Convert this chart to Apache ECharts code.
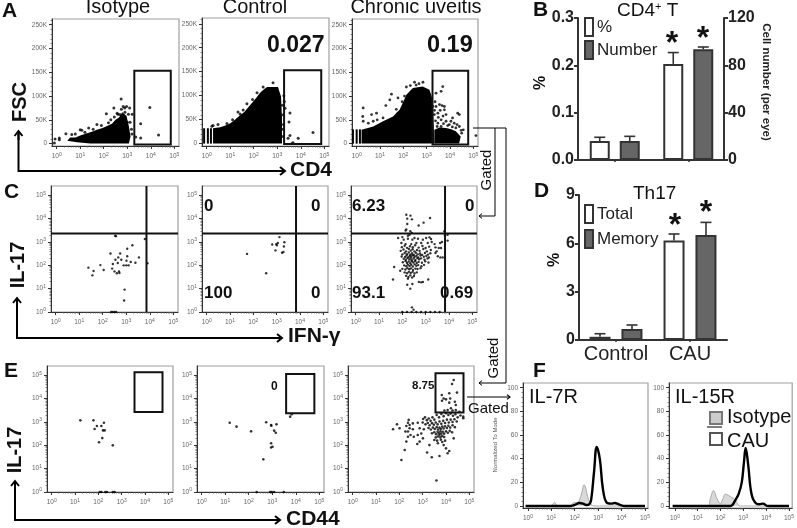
<!DOCTYPE html>
<html><head><meta charset="utf-8">
<style>html,body{margin:0;padding:0;background:#fff}#c{width:797px;height:528px}</style>
<script src="https://cdn.jsdelivr.net/npm/echarts@6/dist/echarts.min.js"></script>
</head><body><div id="c"></div>
<script>
// ---------- values (x, y in log10 decades; FSC in thousands) ----------
const decades=[0,1,2,3,4,5];
const fscTicks=[0,50,100,150,200,250];
const modeTicks=[0,20,40,60,80,100];

const a1Blob=[[0.45,6],[0.57,13],[0.8,13],[1.0,17],[1.29,22],[1.5,25],[1.71,29],[1.95,33],[2.14,37],[2.35,42],[2.5,50],[2.65,55],[2.79,66],[2.97,58],[3.07,36],[3.14,15],[3.07,0],[2.43,0],[1.43,0],[0.86,3]];
const a1Pts=[[-0.07,9.8],[-0.1,1.4],[0.11,12],[0.11,8],[0.39,21],[0.64,19],[0.79,20],[1,29],[1.07,28],[1.36,33],[1.71,40],[2.11,63],[2.43,75],[2.57,64],[2.74,94],[2.83,78],[2.89,75],[2.97,78],[3.1,75],[2.69,61],[3.21,62],[3,45],[3.36,14],[3.57,12],[3.57,42],[3.96,76],[4.33,18],
[1.2,24],[1.55,30],[1.9,38],[2.2,44],[2.3,50],[2.45,56],[2.6,62],[2.75,72],[2.9,66],[3.05,62],[3.12,45],[3.18,30],[3.2,20]];
const a2Blob=[[0.27,0],[0.27,32],[0.57,34],[0.8,38],[0.99,42],[1.2,50],[1.42,59],[1.6,66],[1.84,80],[2.05,92],[2.27,106],[2.45,114],[2.57,118],[3.03,118],[3.16,98],[3.2,55],[3.2,0]];
const a2Stripes=[-0.11,0.05,0.18];
const a2Pts=[[0.22,36],[0.48,40],[0.27,38],[0.86,42],[1.33,66],[1.42,62],[1.71,83],[2.14,106],[2.4,118],[2.82,127],[3.33,74],[3.54,64],[3.5,45],[3.54,17],[3.46,11],[3.67,2],[3.89,11],[4.52,23],[3.12,21],[3.63,0],[3.22,80],[3.25,60],[3.23,30],[3.28,100],[3.26,40],[3.24,15],[3.3,88],[1.1,50],[1.55,70],[1.95,92]];
const a3Blob=[[0.21,0],[0.21,29],[0.71,36],[1.13,47],[1.56,57],[1.84,71],[2.0,88],[2.13,103],[2.41,117],[2.83,120],[3.12,113],[3.26,92],[3.29,50],[3.33,0]];
const a3Blob2=[[3.33,29],[3.55,34],[3.83,33],[4.05,30],[4.25,26],[4.46,15],[4.39,0],[3.33,0]];
const a3Stripes=[-0.16,0,0.14];
const a3Pts=[[0.28,75],[0.26,57],[0.28,47],[0.5,43],[0.64,61],[0.85,64],[0.71,47],[0.88,50],[1.13,54],[1.25,80],[1.49,104],[1.42,92],[1.77,96],[2.13,119],[2.48,129],[2.67,126],[2.84,129],[2.13,71],[1.77,64],[3.69,120],[3.4,106],[3.62,110],[3.48,64],[3.55,82],[3.66,80],[3.76,78],[3.83,61],[3.4,78],[3.76,71],[4.11,54],[4.33,64],[4.4,61],[4.04,47],[3.83,47],[3.62,50],[4.18,43],[3.48,43],[4.57,29],[5.11,17],[4.4,36],[3.62,36],[3.97,40],[3.33,61],[3.26,78],[3.23,36],[3.19,15],[3.5,55],[3.58,70],[3.7,58],[3.9,38],[4.1,35],[4.25,33],[4.5,22],[3.45,36],[3.72,42],
[1.95,88],[2.05,100],[1.7,72],[2.3,122],[2.55,123],[3.34,70],[3.38,48],[3.36,88],[3.4,25],[4.3,40],[4.48,28]];
const gateA1=[3.3,-2,4.85,153], gateA2=[3.29,-1,4.87,153], gateA3=[3.25,-2,4.78,153];

const c1Pts=[[1.39,1.9],[1.56,1.57],[1.61,1.76],[1.9,2.01],[2.04,1.8],[2.33,2.51],[2.43,2.06],[2.4,1.86],[2.54,2.24],[2.5,1.74],[2.6,1.66],[2.66,2.34],[2.64,2.1],[2.69,1.74],[2.71,1.67],[2.74,2.51],[2.79,2.24],[2.89,2],[3.01,2.2],[3.04,2.71],[3.04,2.39],[3,2],[3.1,2],[3.19,2.14],[3.26,2.86],[3.39,2.11],[3.54,2.34],[3.79,3.13],[2.53,3.27],[2.56,3.25],[3.9,2.09],[2.93,0.96],[2.91,0.49],[2.36,0],[2.43,0],[2.5,0],[2.57,0]];
const c2Pts=[[1.73,2.49],[2.55,1.66],[3.12,3.21],[2.81,2.89],[2.98,2.91],[3.05,2.96],[3.33,2.99],[3.31,2.81],[2.95,2.64],[3.29,2.57],[3.23,2.54],[3.01,2.86]];
const c3Pts=[[2.17,4.17],[2.21,4.0],[2.35,4.13],[2.41,3.97],[2.7,3.71],[2.91,3.83],[3.19,4.03],[2.21,3.77],[2.17,3.54],[2.14,3.49],[2.34,3.46],[2.41,3.39],[2.31,3.31],[2.24,3.27],[3.8,3.46],[3.83,3.29],[3.94,3.31],[3.94,3.06],[3.7,3.0],[3.62,2.96],[3.42,2.77],[3.56,2.74],[3.66,2.74],[3.38,2.91],[3.47,2.6],[3.52,2.39],[3.63,2.34],[3.73,2.34],[3.42,2.53],
[1.65,1.93],[1.6,1.39],[1.91,1.77],[2.24,1.43],[2.21,1.17],[2.43,1.2],[2.34,1.0],[2.71,1.29],[2.88,1.29],[3.11,1.39],[2.81,1.27],[2.41,0.2],[2.48,0.1],
[1.82,3.17],[2.0,3.21],[2.06,3.1],[2.24,3.14],[2.43,3.1],[2.52,3.17],[2.67,3.14],[2.88,3.1],[3.02,3.17],[3.16,3.2],[3.23,3.13],[3.26,3.0],[3.09,2.96],[2.81,2.96],[2.6,2.96],[2.38,2.91],[2.14,2.91],[1.96,2.96],
[1.98,2.78],[2.1,2.84],[2.2,2.75],[2.33,2.82],[2.45,2.78],[2.55,2.86],[2.7,2.76],[2.86,2.83],[3.0,2.74],[3.15,2.8],
[1.93,2.62],[2.05,2.68],[2.16,2.6],[2.28,2.7],[2.36,2.63],[2.44,2.69],[2.52,2.6],[2.63,2.66],[2.74,2.62],[2.9,2.7],[3.05,2.6],[3.22,2.66],
[2.0,2.47],[2.1,2.53],[2.2,2.48],[2.28,2.55],[2.35,2.46],[2.42,2.52],[2.5,2.44],[2.58,2.54],[2.66,2.47],[2.76,2.51],[2.85,2.45],[2.97,2.53],[3.1,2.46],[3.2,2.52],
[1.97,2.38],[2.12,2.36],[2.18,2.42],[2.26,2.35],[2.32,2.41],[2.38,2.37],[2.44,2.43],[2.52,2.36],[2.6,2.4],[2.68,2.34],[2.78,2.42],[2.92,2.37],[3.03,2.4],[3.14,2.34],
[2.06,2.28],[2.15,2.24],[2.22,2.31],[2.3,2.25],[2.36,2.3],[2.41,2.22],[2.48,2.29],[2.56,2.23],[2.64,2.31],[2.72,2.26],[2.8,2.3],[2.95,2.24],[3.08,2.29],
[2.02,2.13],[2.14,2.18],[2.2,2.1],[2.27,2.16],[2.34,2.09],[2.4,2.17],[2.47,2.12],[2.55,2.18],[2.62,2.1],[2.7,2.15],[2.84,2.11],[2.98,2.17],[3.12,2.12],
[2.08,2.0],[2.17,1.96],[2.24,2.03],[2.31,1.97],[2.38,2.02],[2.45,1.95],[2.53,2.04],[2.6,1.98],[2.68,2.01],[2.82,1.96],[2.93,2.02],
[2.0,1.85],[2.13,1.82],[2.22,1.88],[2.3,1.83],[2.37,1.87],[2.46,1.8],[2.56,1.86],[2.65,1.84],[2.78,1.88],
[2.1,1.7],[2.2,1.66],[2.28,1.72],[2.36,1.67],[2.44,1.72],[2.52,1.65],[2.62,1.7],
[2.16,1.55],[2.26,1.5],[2.34,1.57],[2.42,1.48],[2.5,1.54],
[2.0,0],[2.2,0],[2.4,0],[2.6,0],[2.8,0],[3.0,0],[3.2,0],[3.4,0],[3.6,0]];
const quadC1=[3.86,3.36], quadC2=[3.83,3.36], quadC3=[3.83,3.36];

const e1Pts=[[1.23,3.07],[1.79,3.07],[1.94,2.83],[1.84,2.7],[2.13,2.83],[2.24,2.97],[2.2,2.64],[2.27,2.64],[2.17,2.31],[2.03,2.13],[2.62,2],[2.06,0],[2.13,0],[2.3,0],[2.37,0],[2.62,0],[2.7,0]];
const e2Pts=[[1.19,2.97],[1.48,2.8],[2.1,2.6],[2.74,2.99],[2.95,2.87],[2.96,2.84],[3.18,2.9],[3.08,2.63],[3.15,2.54],[2.95,2.09],[3.01,1.94],[2.95,1.91],[2.62,1.4],[3.76,3.23],[3.83,3.33],[2.34,0],[2.91,0],[2.98,0],[3.08,0],[3.49,0]];
const e3Pts=[[4.33,4.8],[4.26,4.63],[4.14,4.23],[4.47,4.26],[3.82,4.16],[3.9,4.01],[4,3.97],[3.83,3.91],[4.18,4.01],[4.14,3.83],[4.38,3.87],[4.42,3.73],[4.21,3.59],[4.07,3.51],[3.93,3.49],[4.28,3.49],[4.42,3.51],[4.57,3.44],[4.74,3.23],[4.74,3.16],
[1.73,2.69],[1.9,2.9],[2.01,2.73],[2.3,2.83],[2.4,3.09],[2.37,2.97],[2.44,2.87],[2.58,2.94],[2.79,2.97],[2.87,2.73],[2.26,2.59],[2.37,2.59],[2.44,2.73],[2.37,2.37],[2.48,2.44],[2.3,2.16],[2.58,2.69],[2.62,2.37],[2.79,2.44],[3.05,2.69],[2.94,2.51],[3.01,2.3],[2.87,2.16],[2.77,2.06],[2.23,1.8],[2.09,1.37],[3.19,1.69],[3.39,1.49],[3.72,1.54],[3.59,0.49],[3.29,2.01],[3.5,2.23],[3.65,2.09],[3.72,2.44],[3.96,2.2],[3.9,2.01],[4,1.87],[4.14,1.76],[4.07,1.66],[4.33,2.3],
[3.02,3.13],[3.1,3.2],[3.18,3.08],[3.26,3.15],[3.34,3.05],[3.42,3.2],[3.5,3.1],[3.6,3.3],[3.7,3.2],[3.8,3.34],[3.9,3.25],[4.0,3.38],[4.1,3.3],[4.2,3.36],[4.3,3.27],[4.4,3.33],[4.5,3.2],[4.62,3.28],
[3.0,2.98],[3.12,2.9],[3.22,2.96],[3.3,2.86],[3.4,2.95],[3.48,2.88],[3.56,2.98],[3.64,2.9],[3.72,3.02],[3.8,2.92],[3.88,3.05],[3.96,2.96],[4.04,3.1],[4.12,2.98],[4.2,3.1],[4.28,3.0],[4.36,3.12],[4.46,3.02],
[3.25,2.74],[3.35,2.68],[3.44,2.76],[3.52,2.7],[3.6,2.78],[3.66,2.68],[3.72,2.76],[3.78,2.7],[3.84,2.8],[3.9,2.72],[3.96,2.82],[4.04,2.74],[4.1,2.84],[4.18,2.76],[4.28,2.86],[4.38,2.78],
[3.4,2.52],[3.5,2.56],[3.58,2.48],[3.64,2.58],[3.7,2.52],[3.76,2.6],[3.8,2.5],[3.86,2.58],[3.92,2.5],[4.0,2.6],[4.08,2.54],[4.16,2.62],[4.26,2.56],
[3.56,2.34],[3.66,2.38],[3.76,2.34],[3.84,2.4],[3.92,2.36],[3.62,2.2],[3.78,2.24],[3.84,2.14]];
const gateE1=[3.55,3.43,4.75,5.13], gateE2=[3.59,3.37,4.79,5.06], gateE3=[3.55,3.41,4.75,5.09];

const f1Iso=[[-0.1,0],[1.0,0],[1.06,1.5],[1.14,3],[1.22,1],[1.3,0],[1.8,0],[1.9,2],[2.0,3],[2.1,2.5],[2.2,5],[2.3,11],[2.4,18],[2.47,15],[2.55,8],[2.65,3],[2.75,0.5],[2.9,0],[5,0]];
const f1Cau=[[-0.1,0],[1.8,0],[2.0,1],[2.2,2.5],[2.35,2],[2.5,0.8],[2.62,1.5],[2.7,5],[2.83,30],[2.94,50],[3.07,40],[3.2,15],[3.36,3],[3.57,2],[3.7,2.5],[3.93,1],[4.14,0],[5,0]];
const f2Iso=[[-0.1,0],[1.43,0],[1.55,6],[1.69,13],[1.85,6],[2.0,2],[2.1,6],[2.21,10],[2.35,9],[2.5,7],[2.6,6],[2.71,3],[2.86,0],[5,0]];
const f2Cau=[[-0.1,0],[2.4,0],[2.5,0.5],[2.65,5],[2.79,10],[2.93,20],[3.03,38],[3.1,49],[3.21,35],[3.36,10],[3.57,2],[3.7,1.5],[3.86,2],[4.07,0],[5,0]];

const groups=['Control','CAU'];
const pctB=[0.04,0.203], pctBErr=[0.048,0.227];
const numB=[16,93.5], numBErr=[20,95.5];
const totD=[0.2,6.17], totDErr=[0.39,6.58];
const memD=[0.68,6.52], memDErr=[0.93,7.3];

// ---------- helpers ----------
const INK='#111', TICK='#666';
const grids=[], xAxes=[], yAxes=[], series=[];
const minors=[];
decades.slice(0,-1).forEach(d=>{for(let m=2;m<10;m++)minors.push(d+Math.log10(m));});
const decFmt=v=>'{b|10}{s|'+v+'}';
const decRich={b:{fontSize:6.5,color:TICK,fontFamily:'Liberation Sans'},s:{fontSize:5,color:TICK,verticalAlign:'top',padding:[0,0,4,0],fontFamily:'Liberation Sans'}};

function axisPair(list,g,pos,min,max,majors,minorVals,fmt,rich,margin){
  const main=list.length;
  list.push({type:'value',gridIndex:g,position:pos,min,max,splitLine:{show:false},
    axisLine:{show:true,onZero:false,lineStyle:{color:'#333',width:1}},
    axisTick:{show:true,length:3,customValues:majors,lineStyle:{color:'#333',width:1}},
    axisLabel:{show:true,customValues:majors,formatter:fmt,rich,margin,fontSize:6.5,color:TICK,fontFamily:'Liberation Sans',hideOverlap:false}});
  list.push({type:'value',gridIndex:g,position:pos,min,max,splitLine:{show:false},
    axisLine:{show:false,onZero:false},
    axisTick:{show:true,length:1.5,customValues:minorVals,lineStyle:{color:'#555',width:0.7}},
    axisLabel:{show:false}});
  return main;
}
function panel(box,xr,yr,yKind){
  const g=grids.length;
  grids.push({left:box[0],top:box[1],width:box[2]-box[0],height:box[3]-box[1],show:true,borderColor:'#a0a0a0',borderWidth:1.2,backgroundColor:'#fff',containLabel:false});
  const xi=axisPair(xAxes,g,'bottom',xr[0],xr[1],decades,minors,decFmt,decRich,6);
  let yi;
  if(yKind==='fsc'){
    const mv=[];for(let k=0;k<=260;k+=10)if(k%50)mv.push(k);
    yi=axisPair(yAxes,g,'left',yr[0],yr[1],fscTicks,mv,v=>v===0?'0':v+'K',undefined,5);
  }else if(yKind==='mode'){
    const mv=[];for(let k=0;k<=100;k+=4)if(k%20)mv.push(k);
    yi=axisPair(yAxes,g,'left',yr[0],yr[1],modeTicks,mv,v=>String(v),undefined,5);
  }else{
    yi=axisPair(yAxes,g,'left',yr[0],yr[1],decades,minors,decFmt,decRich,5);
  }
  return {xAxisIndex:xi,yAxisIndex:yi};
}
function dots(ax,data,size){series.push({type:'scatter',...ax,data,symbol:'circle',symbolSize:size,itemStyle:{color:'#000'},silent:true,z:4});}
function polygon(ax,pts){series.push({type:'custom',...ax,data:pts,silent:true,z:3,clip:true,
  renderItem:(p,api)=>p.dataIndex!==0?null:{type:'polygon',shape:{points:pts.map(q=>api.coord(q))},style:{fill:'#000'}}});}
function stripes(ax,xs,top){series.push({type:'custom',...ax,data:xs.map(x=>[x,top]),silent:true,z:3,
  renderItem:(p,api)=>{const a=api.coord([api.value(0),0]),b=api.coord([api.value(0),api.value(1)]);
    return {type:'line',shape:{x1:a[0],y1:a[1],x2:b[0],y2:b[1]},style:{stroke:'#000',lineWidth:2}};}});}
function gate(ax,r){series.push({type:'custom',...ax,data:[r],silent:true,z:5,
  renderItem:(p,api)=>{const a=api.coord([api.value(0),api.value(1)]),b=api.coord([api.value(2),api.value(3)]);
    return {type:'rect',shape:{x:a[0],y:b[1],width:b[0]-a[0],height:a[1]-b[1]},style:{fill:'none',stroke:'#111',lineWidth:2}};}});}
function quad(ax,q){series.push({type:'custom',...ax,data:[q],silent:true,z:5,
  renderItem:(p,api)=>{const c=api.coord([api.value(0),api.value(1)]),s=p.coordSys;
    return {type:'group',children:[
      {type:'line',shape:{x1:c[0],y1:s.y,x2:c[0],y2:s.y+s.height},style:{stroke:'#111',lineWidth:2}},
      {type:'line',shape:{x1:s.x,y1:c[1],x2:s.x+s.width,y2:c[1]},style:{stroke:'#111',lineWidth:2}}]};}});}
function hist(ax,iso,cau){
  series.push({type:'line',...ax,data:iso,smooth:0.4,symbol:'none',silent:true,z:3,lineStyle:{color:'#aaa',width:1},areaStyle:{color:'#d9d9d9',opacity:1}});
  series.push({type:'line',...ax,data:cau,smooth:0.4,symbol:'none',silent:true,z:4,lineStyle:{color:'#000',width:2.4}});
}

const XR=[-0.2,5.2], FSC=[-5,262], LOGY=[0,5.4];
// A
let ax=panel([52,19,179,146],XR,FSC,'fsc');polygon(ax,a1Blob);dots(ax,a1Pts,3);gate(ax,gateA1);
ax=panel([202,18,329,146],XR,FSC,'fsc');polygon(ax,a2Blob);stripes(ax,a2Stripes,32);dots(ax,a2Pts,3);gate(ax,gateA2);
ax=panel([352,19,478,146],XR,FSC,'fsc');polygon(ax,a3Blob);polygon(ax,a3Blob2);stripes(ax,a3Stripes,30);dots(ax,a3Pts,2.8);gate(ax,gateA3);
// C
ax=panel([51,186,178,312],XR,LOGY,'log');dots(ax,c1Pts,2.4);quad(ax,quadC1);
ax=panel([202,186,328,312],XR,LOGY,'log');dots(ax,c2Pts,2.4);quad(ax,quadC2);
ax=panel([351,186,477,312],XR,LOGY,'log');dots(ax,c3Pts,2.4);quad(ax,quadC3);
// E
ax=panel([47,366,173,492],XR,LOGY,'log');dots(ax,e1Pts,2.6);gate(ax,gateE1);
ax=panel([197,366,324,492],XR,LOGY,'log');dots(ax,e2Pts,2.6);gate(ax,gateE2);
ax=panel([348,366,474,492],XR,LOGY,'log');dots(ax,e3Pts,2.6);gate(ax,gateE3);
// F
const f1=panel([523,383,648,508],[-0.21,5.13],[-1.7,104],'mode');hist(f1,f1Iso,f1Cau);
const f2=panel([669,383,795,508],[-0.26,5.14],[-1.7,104],'mode');hist(f2,f2Iso,f2Cau);

// Bar panels
function barPanel(box,catNames,showCats){
  const g=grids.length;
  grids.push({left:box[0],top:box[1],width:box[2]-box[0],height:box[3]-box[1],containLabel:false});
  const xi=xAxes.length;
  xAxes.push({type:'category',gridIndex:g,data:catNames,position:'bottom',
    axisLine:{lineStyle:{color:'#333',width:2}},
    axisTick:{show:true,alignWithLabel:true,length:2,lineStyle:{color:'#333',width:1.5}},
    axisLabel:{show:showCats,interval:0,hideOverlap:false,fontSize:20,color:'#222',margin:4,fontFamily:'Liberation Sans'}});
  return {g,xi};
}
const boldTick={fontSize:16,fontWeight:'bold',color:'#222',fontFamily:'Liberation Sans',margin:4};
function valAxis(g,pos,max,interval,fmt,offset){
  const i=yAxes.length;
  yAxes.push({type:'value',gridIndex:g,position:pos,min:0,max,interval,offset:offset||0,splitLine:{show:false},
    axisLine:{show:true,lineStyle:{color:'#333',width:2}},
    axisTick:{show:true,length:4,lineStyle:{color:'#333',width:2}},
    axisLabel:Object.assign({formatter:fmt},boldTick)});
  return i;
}
function barSeries(name,xi,yi,data,fill,w,gap){
  series.push({type:'bar',name,xAxisIndex:xi,yAxisIndex:yi,data,barWidth:w,barGap:gap,silent:true,z:3,
    itemStyle:{color:fill,borderColor:'#333',borderWidth:2}});
}
function errSeries(xi,yi,tops,dx){
  series.push({type:'custom',xAxisIndex:xi,yAxisIndex:yi,silent:true,z:2,data:tops.map((t,i)=>[i,t[0],t[1]]),
    renderItem:(p,api)=>{const a=api.coord([api.value(0),api.value(1)]),b=api.coord([api.value(0),api.value(2)]);const x=a[0]+dx;
      return {type:'group',children:[
        {type:'line',shape:{x1:x,y1:a[1],x2:x,y2:b[1]},style:{stroke:'#333',lineWidth:1.6}},
        {type:'line',shape:{x1:x-5.5,y1:b[1],x2:x+5.5,y2:b[1]},style:{stroke:'#333',lineWidth:1.6}}]};}});
}
const B=barPanel([578,18,725,160],groups,false);
const bl=valAxis(B.g,'left',0.3,0.1,v=>v.toFixed(1));
const br=valAxis(B.g,'right',120,40,v=>String(v),-1);
barSeries('%',B.xi,bl,pctB,'#fff',20,'50%');
barSeries('Number',B.xi,br,numB,'#666',20,'50%');
errSeries(B.xi,bl,pctB.map((v,i)=>[v,pctBErr[i]]),-15);
errSeries(B.xi,br,numB.map((v,i)=>[v,numBErr[i]]),15);

const D=barPanel([579,195,727,340],groups,true);
const dl=valAxis(D.g,'left',9,3,v=>String(v));
barSeries('Total',D.xi,dl,totD,'#fff',21,'52%');
barSeries('Memory',D.xi,dl,memD,'#666',21,'52%');
errSeries(D.xi,dl,totD.map((v,i)=>[v,totDErr[i]]),-16);
errSeries(D.xi,dl,memD.map((v,i)=>[v,memDErr[i]]),16);

// ---------- annotation ----------
const g=[];
function T(text,x,base,size,weight,align,fill){
  g.push({type:'text',x,y:base-0.35*size,z:20,style:{text,fill:fill||INK,font:(weight||'normal')+' '+size+'px "Liberation Sans"',textAlign:align||'left',textVerticalAlign:'middle'}});
}
function R(text,cx,cy,size,weight,rot,fill){
  g.push({type:'text',x:cx,y:cy,rotation:rot,z:20,style:{text,fill:fill||INK,font:(weight||'normal')+' '+size+'px "Liberation Sans"',textAlign:'center',textVerticalAlign:'middle'}});
}
function L(pts,w){g.push({type:'polyline',z:19,shape:{points:pts},style:{stroke:'#000',lineWidth:w,fill:'none'}});}
function arrowL(pts,w,s){
  L(pts,w);
  const a=pts[pts.length-2],b=pts[pts.length-1],dx=Math.sign(b[0]-a[0]),dy=Math.sign(b[1]-a[1]);
  L([[b[0]-dx*s-dy*s*0.8,b[1]-dy*s-dx*s*0.8],b,[b[0]-dx*s+dy*s*0.8,b[1]-dy*s+dx*s*0.8]],w);
}
// panel letters
[['A',2,19],['B',533,18],['C',4,200],['D',534,199],['E',4,379],['F',533,379]].forEach(l=>T(l[0],l[1],l[2],21,'bold'));
// column titles
T('Isotype',118,14,20,'normal','center');T('Control',255,14,20,'normal','center');T('Chronic uveitis',416,14,20,'normal','center');
// axis names
R('FSC',20,102,20,'bold',Math.PI/2);T('CD4',290,178,21,'bold');
R('IL-17',18,265,20,'bold',Math.PI/2);T('IFN-γ',288,344,21,'bold');
R('IL-17',15,450,20,'bold',Math.PI/2);T('CD44',286,527,21,'bold');
// axis arrows
L([[18.5,132],[18.5,171],[285,171]],2);arrowL([[18.5,140],[18.5,131]],2,5);arrowL([[270,171],[285,171]],2,5);
L([[17,299],[17,338],[282,338]],2);arrowL([[17,307],[17,298]],2,5);arrowL([[267,338],[282,338]],2,5);
L([[15,482],[15,520],[280,520]],2);arrowL([[15,490],[15,481]],2,5);arrowL([[265,520],[280,520]],2,5);
// gate percentages
T('0.027',267,54,23,'bold');T('0.19',427,54,23.5,'bold');
T('0',204,212,17,'bold');T('0',311,212,17,'bold');T('100',204,299,17,'bold');T('0',311,299,17,'bold');
T('6.23',352,212,17,'bold');T('0',465,212,17,'bold');T('93.1',352,299,17,'bold');T('0.69',440,299,17,'bold');
T('0',271,391,12,'bold');T('8.75',412,390,11.5,'bold');
// gating connectors
L([[473,128],[506,128]],1);
L([[495,128],[495,216]],1);arrowL([[495,216],[479,216]],1,3);
L([[506,128],[506,383]],1);arrowL([[506,383],[479,383]],1,3);
arrowL([[467,397],[510,397]],1.2,3);
R('Gated',487,170,15,'normal',Math.PI/2);R('Gated',494,358,15,'normal',Math.PI/2);T('Gated',468,414,15);
// bar titles and axis names
g.push({type:'text',x:617,y:11,z:20,style:{text:'{a|CD4}{s|+}{a| T}',textVerticalAlign:'middle',fill:INK,rich:{a:{font:'19px "Liberation Sans"',fill:INK},s:{font:'11px "Liberation Sans"',fill:INK,verticalAlign:'top'}}}});
T('Th17',633,200,19);
R('%',541,83,16,'bold',Math.PI/2);R('%',555,260,16,'bold',Math.PI/2);
R('Cell number (per eye)',766,82,11.5,'bold',-Math.PI/2,'#222');
// F annotations
R('Normalized To Mode',495,445,6,'normal',Math.PI/2,'#555');
T('IL-7R',529,404,20);T('IL-15R',675,404,20);
g.push({type:'rect',z:20,shape:{x:710,y:412,width:12,height:12},style:{fill:'#ccc',stroke:'#777',lineWidth:2}});
L([[707,427],[722,427]],1);
g.push({type:'rect',z:20,shape:{x:710,y:433,width:12,height:12},style:{fill:'#fff',stroke:'#555',lineWidth:2}});
T('Isotype',727,424,20);T('CAU',727,448,20);
// significance stars
[[672,44],[703,39],[675,226],[706,213]].forEach(s=>R('*',s[0],s[1],32,'bold',0));

const legendBase={orient:'vertical',left:584,padding:0,icon:'rect',itemWidth:8,itemHeight:18,selectedMode:false,
  textStyle:{fontSize:17,color:'#222',fontFamily:'Liberation Sans',padding:[0,0,0,-1]}};

echarts.init(document.getElementById('c'),null,{width:797,height:528}).setOption({
  animation:false,backgroundColor:'#fff',
  textStyle:{fontFamily:'Liberation Sans'},
  grid:grids,xAxis:xAxes,yAxis:yAxes,series,graphic:{elements:g},
  legend:[Object.assign({},legendBase,{top:17,itemGap:3,data:['%','Number']}),
          Object.assign({},legendBase,{top:204,itemGap:5,data:['Total','Memory']})]
});
</script></body></html>
